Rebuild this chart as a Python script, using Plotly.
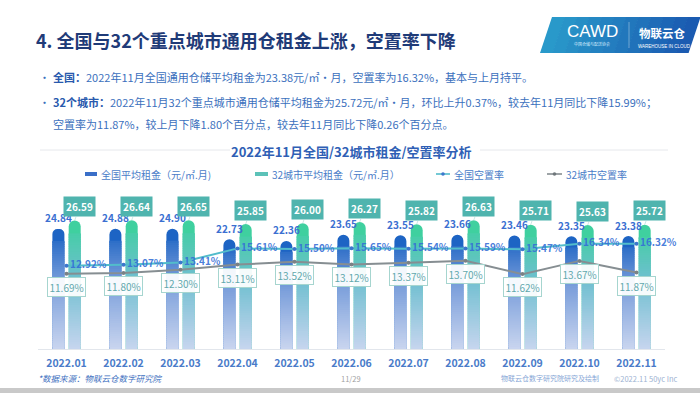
import plotly.graph_objects as go

# ---------------- data ----------------
months = ["2022.01", "2022.02", "2022.03", "2022.04", "2022.05", "2022.06",
          "2022.07", "2022.08", "2022.09", "2022.10", "2022.11"]
national_rent = [24.84, 24.88, 24.90, 22.73, 22.36, 23.65, 23.55, 23.66, 23.46, 23.35, 23.38]
city_rent = [26.59, 26.64, 26.65, 25.85, 26.00, 26.27, 25.82, 26.63, 25.71, 25.63, 25.72]
national_vac = [12.92, 13.07, 13.41, 15.61, 15.50, 15.65, 15.54, 15.59, 15.47, 16.34, 16.32]
city_vac = [11.69, 11.80, 12.30, 13.11, 13.52, 13.12, 13.37, 13.70, 11.62, 13.67, 11.87]

legend_names = ["全国平均租金（元/㎡.月)", "32城市平均租金（元/㎡.月）", "全国空置率", "32城市空置率"]

idx = list(range(len(months)))

FONT = "Noto Sans CJK SC"
W, H = 700, 393
PX0, PX1, PY0, PY1 = 38, 665, 204, 349


def fx(px):
    return (px - PX0) / (PX1 - PX0)


def fy(py):
    return (PY1 - py) / (PY1 - PY0)


def hexrgb(h):
    h = h.lstrip("#")
    return tuple(int(h[i:i + 2], 16) for i in (0, 2, 4))


def grad(stops, t):
    for (t0, c0), (t1, c1) in zip(stops[:-1], stops[1:]):
        if t0 <= t <= t1:
            a, b = hexrgb(c0), hexrgb(c1)
            u = (t - t0) / (t1 - t0)
            r = [round(a[i] + (b[i] - a[i]) * u) for i in range(3)]
            return "rgb(%d,%d,%d)" % tuple(r)
    return stops[-1][1]


fig = go.Figure()

# ---------------- gradient bars (rounded cap + thin overlapping segments) ----------------
BW = 12 / 57
N = 50
CAP = 0.90
nat_stops = [(0, "#c9d5ef"), (0.55, "#7b9fdb"), (1, "#1660c2")]
city_stops = [(0, "#c6d5ee"), (0.55, "#6fbfd0"), (1, "#3cd19c")]
for values, off, stops in [(national_rent, -8.1 / 57 - BW / 2, nat_stops),
                           (city_rent, 8.2 / 57 - BW / 2, city_stops)]:
    # rounded cap (full bar, drawn underneath)
    fig.add_trace(go.Bar(
        x=idx, y=values, offset=off, width=BW,
        marker=dict(color=grad(stops, 0.97), line=dict(width=0), cornerradius=6),
        showlegend=False, hoverinfo="skip"))
    for k in range(N):
        f0 = CAP * k / N
        f1 = min(CAP * (k + 1.7) / N, CAP)
        base = [v * f0 for v in values]
        seg = [v * (f1 - f0) for v in values]
        fig.add_trace(go.Bar(
            x=idx, y=seg, base=base, offset=off, width=BW,
            marker=dict(color=grad(stops, (f0 + CAP / N / 2)), line=dict(width=0)),
            showlegend=False, hoverinfo="skip"))

# ---------------- vacancy lines ----------------
fig.add_trace(go.Scatter(
    x=idx, y=city_vac, yaxis="y2", mode="lines+markers",
    line=dict(color="#868e92", width=2), marker=dict(size=4, color="#7a8286"),
    showlegend=False, hoverinfo="skip"))
fig.add_trace(go.Scatter(
    x=idx, y=national_vac, yaxis="y2", mode="lines+markers+text", cliponaxis=False,
    text=[f"{v:.2f}%" for v in national_vac], textposition="middle right",
    textfont=dict(family=FONT, size=10, color="rgba(52,110,214,0.9)", weight="bold"),
    line=dict(color="#52bccb", width=2), marker=dict(size=4, color="#3d76cc"),
    showlegend=False, hoverinfo="skip"))

ann = []
shapes = []

# value labels
for i, v in zip(idx, national_rent):
    ann.append(dict(x=i, y=v, xref="x", yref="y", xshift=-8.1, yshift=11,
                    text=f"<b>{v:.2f}</b>", showarrow=False,
                    font=dict(family=FONT, size=10, color="#3b6fd1")))
for i, v in zip(idx, city_rent):
    ann.append(dict(x=i, y=v, xref="x", yref="y", xshift=8.2,
                    text=f"<b>{v:.2f}</b>", showarrow=True, arrowhead=0,
                    arrowwidth=0.6, arrowcolor="#a8d8d4", ax=5, ay=-14,
                    font=dict(family=FONT, size=10, color="white"),
                    bgcolor="#4fb4ae", borderpad=2))
for i, v in zip(idx, city_vac):
    ann.append(dict(x=i, y=v, xref="x", yref="y2", yshift=-13,
                    text=f"{v:.2f}%", showarrow=False,
                    font=dict(family=FONT, size=10, color="#62a8ad"),
                    bgcolor="rgba(255,255,255,0.93)", bordercolor="#a6d5cf",
                    borderwidth=1, borderpad=1.5))


def text_at(px, py, s, size, color, anchor="left", bold=False, family=FONT):
    ann.append(dict(x=fx(px), y=fy(py), xref="paper", yref="paper",
                    text=f"<b>{s}</b>" if bold else s, showarrow=False,
                    xanchor=anchor, yanchor="middle", borderpad=0,
                    font=dict(family=family, size=size, color=color)))


# ---------------- header ----------------
text_at(35, 40, "4. 全国与32个重点城市通用仓租金上涨，空置率下降", 18, "#1f3b78", bold=True)

# logo
NS = 12
for i in range(NS):
    xa = 552 + (700 - 552) * i / NS
    xb = 552 + (700 - 552) * (i + 1) / NS + 0.6
    path = "M %f %f L %f %f L %f %f L %f %f Z" % (
        fx(xa), fy(17), fx(xb), fy(17), fx(xb - 12), fy(53), fx(xa - 12), fy(53))
    shapes.append(dict(type="path", path=path, xref="paper", yref="paper",
                       fillcolor=grad([(0, "#2a9ccb"), (1, "#1a58b0")], (i + 0.5) / NS),
                       line=dict(width=0), layer="above"))
text_at(592, 31, "CAWD", 17, "white", anchor="center", family="Liberation Sans")
text_at(592, 44, "中国仓储与配送协会", 4, "#d8ecff", anchor="center")
shapes.append(dict(type="line", xref="paper", yref="paper", x0=fx(629), x1=fx(629),
                   y0=fy(22), y1=fy(48), line=dict(color="rgba(255,255,255,0.6)", width=0.6)))
text_at(662, 33, "物联云仓", 11.5, "white", anchor="center", bold=True)
text_at(664, 47, "WAREHOUSE IN CLOUD", 4.5, "white", anchor="center", family="Liberation Sans")

# paragraph text
TXT = "#3b70bd"
BLD = "#2859ad"
text_at(38, 77, "•", 11, TXT)
text_at(52, 77, f"<b><span style='color:{BLD}'>全国：</span></b>2022年11月全国通用仓储平均租金为23.38元/㎡·月，空置率为16.32%，基本与上月持平。", 11, TXT)
text_at(38, 102, "•", 11, TXT)
text_at(52, 102, f"<b><span style='color:{BLD}'>32个城市：</span></b>2022年11月32个重点城市通用仓储平均租金为25.72元/㎡·月，环比上升0.37%，较去年11月同比下降15.99%；", 11, TXT)
text_at(52, 124, "空置率为11.87%，较上月下降1.80个百分点，较去年11月同比下降0.26个百分点。", 11, TXT)

# chart title
text_at(351, 151, "2022年11月全国/32城市租金/空置率分析", 13, "#2f5fb5", anchor="center", bold=True)
for xa, xb in [(40, 230), (480, 668)]:
    shapes.append(dict(type="line", xref="paper", yref="paper", x0=fx(xa), x1=fx(xb),
                       y0=fy(150), y1=fy(150), line=dict(color="#e6e8ec", width=1)))

# legend (manual)
LEG = "#4a7cc8"
shapes.append(dict(type="rect", xref="paper", yref="paper", x0=fx(85), x1=fx(97),
                   y0=fy(176), y1=fy(172), fillcolor="#3a6fc8", line=dict(width=0)))
text_at(100, 174, legend_names[0], 10, LEG)
shapes.append(dict(type="rect", xref="paper", yref="paper", x0=fx(255), x1=fx(268),
                   y0=fy(176), y1=fy(172), fillcolor="#5cc2b8", line=dict(width=0)))
text_at(271, 174, legend_names[1], 10, LEG)
for (xa, xb, lc, mc, label) in [(436, 450, "#52bccb", "#3d76cc", legend_names[2]),
                                (547, 562, "#868e92", "#6f777b", legend_names[3])]:
    shapes.append(dict(type="line", xref="paper", yref="paper", x0=fx(xa), x1=fx(xb),
                       y0=fy(174), y1=fy(174), line=dict(color=lc, width=1.6)))
    cx = (xa + xb) / 2
    shapes.append(dict(type="circle", xref="paper", yref="paper", x0=fx(cx - 1.8), x1=fx(cx + 1.8),
                       y0=fy(175.8), y1=fy(172.2), fillcolor=mc, line=dict(width=0)))
    text_at(xb + 3, 174, label, 10, LEG)

# footer
text_at(37, 378, "<i>*数据来源：物联云仓数字研究院</i>", 8.5, "#3d6fc0")
text_at(351, 378, "11/29", 7.5, "#a0a0a0", anchor="center")
text_at(500, 378, "物联云仓数字研究院研究及绘制", 7, "#86a6d6")
text_at(613, 378, "©2022.11 50yc Inc", 7.5, "#9db2d2")
shapes.append(dict(type="rect", xref="paper", yref="paper", x0=fx(0), x1=fx(700),
                   y0=fy(393), y1=fy(388), fillcolor="#c9c9c9", line=dict(width=0)))

fig.update_layout(
    width=W, height=H,
    margin=dict(l=PX0, r=W - PX1, t=PY0, b=H - PY1, pad=0),
    paper_bgcolor="white", plot_bgcolor="white",
    barmode="overlay", showlegend=False,
    font=dict(family=FONT),
    xaxis=dict(range=[-0.5, len(months) - 0.5], tickmode="array", tickvals=idx, ticktext=months,
               showline=True, linecolor="#e2e6ec", linewidth=1,
               ticks="", showgrid=False, zeroline=False, ticklabelstandoff=4,
               tickfont=dict(family=FONT, size=10.5, color="#4a7bc9", weight="bold")),
    yaxis=dict(range=[0, 30], visible=False, showgrid=False, zeroline=False),
    yaxis2=dict(range=[0, 22.5], overlaying="y", visible=False, showgrid=False, zeroline=False),
    annotations=ann, shapes=shapes,
)

fig.write_html("out.html", config={"displayModeBar": False},
               post_script="document.body.style.margin='0px';document.body.style.overflow='hidden';")
